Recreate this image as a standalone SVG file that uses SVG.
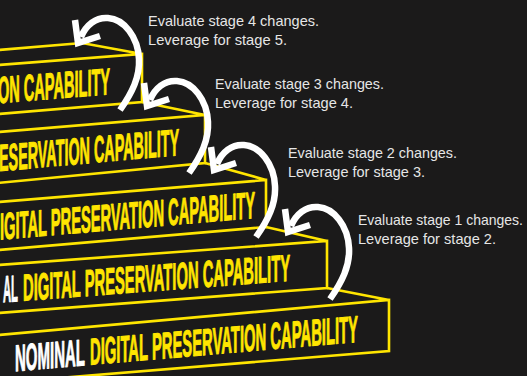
<svg xmlns="http://www.w3.org/2000/svg" width="527" height="376" viewBox="0 0 527 376">
  <defs>
    <style>
      .edge { fill: none; stroke: #ffe500; stroke-width: 2.6; stroke-linejoin: miter; }
      .lbl { font-family: "Liberation Sans Narrow", "Liberation Sans", Arial, sans-serif; font-weight: bold; font-size: 37.5px; stroke-width: 1; stroke-linejoin: round; }
      .y { fill: #ffe500; stroke: #ffe500; }
      .w { fill: #ffffff; stroke: #ffffff; }
      .note { font-family: "Liberation Sans", Arial, sans-serif; font-size: 15px; fill: #e6e6e6; }
      .arc { fill: none; stroke: #ffffff; stroke-width: 6.5; stroke-linecap: butt; }
      .head { fill: none; stroke: #ffffff; stroke-width: 6.5; stroke-linejoin: miter; stroke-linecap: butt; }
    </style>
    <g id="loop">
      <path class="arc" d="M42,67 C54,50 62,34 61,16 C60,-6 46,-24 30,-25 C18,-26 8,-18 3,-6"/>
      <path class="head" d="M-3,-23 L0,0 L22,-7"/>
    </g>
  </defs>
  <rect x="0" y="0" width="527" height="376" fill="#1b1a1a"/>

  <g id="step1">
    <path class="edge" d="M-2,335 L389,300 L389,351 L-2,383 M389,300 L327,288"/>
    <g transform="translate(0,372.5) skewY(-4.9)">
      <text class="lbl w" x="15" y="0" textLength="70" lengthAdjust="spacingAndGlyphs">NOMINAL</text>
      <text class="lbl y" x="90" y="0" textLength="268" lengthAdjust="spacingAndGlyphs">DIGITAL PRESERVATION CAPABILITY</text>
    </g>
  </g>

  <g id="step2">
    <path class="edge" d="M-2,265 L327,241 L327,288 L-2,313 M327,241 L266,227"/>
    <g transform="translate(0,302.5) skewY(-4.3)">
      <text class="lbl w" x="3" y="0" textLength="15" lengthAdjust="spacingAndGlyphs">AL</text>
      <text class="lbl y" x="23" y="0" textLength="267" lengthAdjust="spacingAndGlyphs">DIGITAL PRESERVATION CAPABILITY</text>
    </g>
  </g>

  <g id="step3">
    <path class="edge" d="M-2,202 L266,180 L266,227 L-2,250 M266,180 L205,163"/>
    <g transform="translate(0,239.5) skewY(-4.85)">
      <text class="lbl y" x="0" y="0" textLength="255" lengthAdjust="spacingAndGlyphs">IGITAL PRESERVATION CAPABILITY</text>
    </g>
  </g>

  <g id="step4">
    <path class="edge" d="M-2,132 L205,115 L205,163 L-2,183 M205,115 L142,102"/>
    <g transform="translate(0,171) skewY(-5.1)">
      <text class="lbl y" x="-1" y="0" textLength="180" lengthAdjust="spacingAndGlyphs">ESERVATION CAPABILITY</text>
    </g>
  </g>

  <g id="step5">
    <path class="edge" d="M-2,65 L142,54 L142,102 L-2,114 M142,54 L82,43 L-2,50"/>
    <g transform="translate(0,103) skewY(-4.6)">
      <text class="lbl y" x="-2" y="0" textLength="112" lengthAdjust="spacingAndGlyphs">ON CAPABILITY</text>
    </g>
  </g>

  <g id="connectors">
    <use href="#loop" transform="translate(288,232)"/>
    <use href="#loop" transform="translate(214,170)"/>
    <use href="#loop" transform="translate(147,106)"/>
    <use href="#loop" transform="translate(78,43)"/>
  </g>

  <g id="note4">
    <text class="note" x="148" y="26" textLength="171" lengthAdjust="spacingAndGlyphs">Evaluate stage 4 changes.</text>
    <text class="note" x="148" y="44.5" textLength="139" lengthAdjust="spacingAndGlyphs">Leverage for stage 5.</text>
  </g>
  <g id="note3">
    <text class="note" x="215" y="89" textLength="169" lengthAdjust="spacingAndGlyphs">Evaluate stage 3 changes.</text>
    <text class="note" x="215" y="108" textLength="138" lengthAdjust="spacingAndGlyphs">Leverage for stage 4.</text>
  </g>
  <g id="note2">
    <text class="note" x="288" y="158" textLength="169" lengthAdjust="spacingAndGlyphs">Evaluate stage 2 changes.</text>
    <text class="note" x="288" y="177" textLength="137" lengthAdjust="spacingAndGlyphs">Leverage for stage 3.</text>
  </g>
  <g id="note1">
    <text class="note" x="358" y="225" textLength="165" lengthAdjust="spacingAndGlyphs">Evaluate stage 1 changes.</text>
    <text class="note" x="358" y="244" textLength="138" lengthAdjust="spacingAndGlyphs">Leverage for stage 2.</text>
  </g>
</svg>
